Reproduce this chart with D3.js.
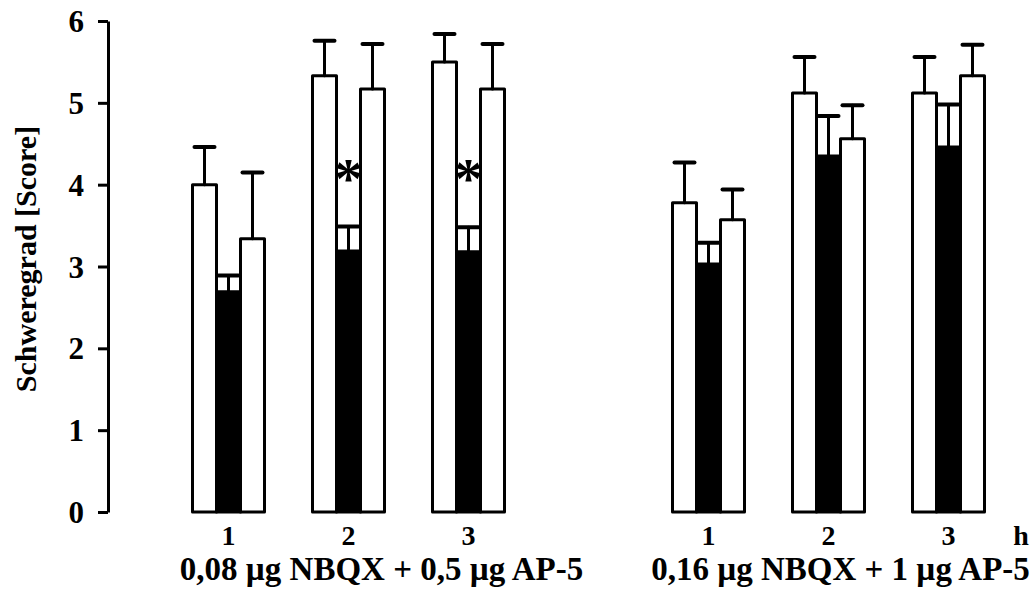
<!DOCTYPE html>
<html>
<head>
<meta charset="utf-8">
<script src="https://cdn.jsdelivr.net/npm/d3@7"></script>
<style>
  body { margin: 0; background: #fff; }
  svg { display: block; font-family: 'Liberation Serif', 'Times New Roman', serif; font-weight: bold; }
</style>
</head>
<body>
<script>
// doses (two panels) and time points
const doses = ['0,08 µg NBQX + 0,5 µg AP-5', '0,16 µg NBQX + 1 µg AP-5']
const hours = ['1', '2', '3']
const yTicks = [0, 1, 2, 3, 4, 5, 6]

// six slots: dose x hour, a blank slot between the panels
const slots = ['a1', 'a2', 'a3', 'gap', 'b1', 'b2', 'b3']
const slotHours = { a1: '1', a2: '2', a3: '3', b1: '1', b2: '2', b3: '3' }

// three bars per slot (white, black, white), mean and SD
const series = ['s1', 's2', 's3']
const meanS1 = [4.0, 5.33, 5.5, 3.78, 5.12, 5.12]
const sdS1 = [0.46, 0.43, 0.34, 0.49, 0.44, 0.44]
const meanS2 = [2.69, 3.19, 3.18, 3.03, 4.35, 4.46]
const sdS2 = [0.2, 0.3, 0.3, 0.26, 0.49, 0.52]
const meanS3 = [3.34, 5.17, 5.17, 3.57, 4.56, 5.33]
const sdS3 = [0.81, 0.55, 0.55, 0.37, 0.41, 0.38]

// significance marks (slot, series, height in score units)
const stars = [
  { slot: 'a2', series: 's2', at: 4.15 },
  { slot: 'a3', series: 's2', at: 4.15 },
]

const W = 1032
const H = 592

const svg = d3.select('body').append('svg')
  .attr('width', W)
  .attr('height', H)

const y = d3.scaleLinear().domain([0, 6]).range([512, 21])
const x = d3.scaleBand().domain(slots).range([192.5, 984.5]).paddingInner(0.4)
const xs = d3.scaleBand().domain(series).range([0, x.bandwidth()])

const dataSlots = slots.filter(s => s !== 'gap')
const fills = { s1: '#fff', s2: '#000', s3: '#fff' }
const means = { s1: meanS1, s2: meanS2, s3: meanS3 }
const sds = { s1: sdS1, s2: sdS2, s3: sdS3 }

const bars = dataSlots.flatMap((slot, i) =>
  series.map(s => ({ slot, series: s, mean: means[s][i], sd: sds[s][i] })))

const barX = d => x(d.slot) + xs(d.series)

svg.append('g').selectAll('rect')
  .data(bars)
  .join('rect')
  .attr('x', barX)
  .attr('y', d => y(d.mean))
  .attr('width', xs.bandwidth())
  .attr('height', d => y(0) - y(d.mean))
  .attr('fill', d => fills[d.series])
  .attr('stroke', '#000')
  .attr('stroke-width', 3)
  .attr('stroke-linejoin', 'round')

// error bars, upward only
const err = svg.append('g').attr('stroke', '#000').attr('stroke-linecap', 'round')

err.selectAll('line.stem')
  .data(bars)
  .join('line')
  .classed('stem', true)
  .attr('x1', d => barX(d) + xs.bandwidth() / 2)
  .attr('x2', d => barX(d) + xs.bandwidth() / 2)
  .attr('y1', d => y(d.mean))
  .attr('y2', d => y(d.mean + d.sd))
  .attr('stroke-width', 3)

err.selectAll('line.cap')
  .data(bars)
  .join('line')
  .classed('cap', true)
  .attr('x1', d => barX(d) + 2)
  .attr('x2', d => barX(d) + xs.bandwidth() - 2)
  .attr('y1', d => y(d.mean + d.sd))
  .attr('y2', d => y(d.mean + d.sd))
  .attr('stroke-width', 4)

// stars
svg.append('g').selectAll('text')
  .data(stars)
  .join('text')
  .attr('x', d => x(d.slot) + xs(d.series) + xs.bandwidth() / 2)
  .attr('y', d => y(d.at) + 26)
  .attr('text-anchor', 'middle')
  .attr('font-size', 56)
  .text('*')

// y axis
const yAxis = svg.append('g')
  .attr('transform', 'translate(108,0)')
  .call(d3.axisLeft(y).tickValues(yTicks).tickFormat(d3.format('d')).tickSize(10).tickSizeOuter(0).tickPadding(14))

yAxis.select('.domain').attr('stroke-width', 3)
yAxis.selectAll('.tick line').attr('stroke-width', 3)
yAxis.selectAll('.tick text')
  .attr('font-size', 31)
  .attr('font-family', 'Liberation Serif, serif')
  .attr('font-weight', 'bold')
  .attr('dy', '0.34em')
  .attr('fill', '#000')

svg.append('text')
  .attr('transform', 'translate(36,259) rotate(-90)')
  .attr('text-anchor', 'middle')
  .attr('font-size', 30)
  .text('Schweregrad [Score]')

// hour labels
svg.append('g').selectAll('text')
  .data(dataSlots)
  .join('text')
  .attr('x', d => x(d) + x.bandwidth() / 2)
  .attr('y', 545)
  .attr('text-anchor', 'middle')
  .attr('font-size', 28)
  .text(d => slotHours[d])

svg.append('text')
  .attr('x', 1021)
  .attr('y', 545)
  .attr('text-anchor', 'middle')
  .attr('font-size', 28)
  .text('h')

// dose labels under each panel
const panelSlots = [['a1', 'a3'], ['b1', 'b3']]
const doseShift = [33, 12]
svg.append('g').selectAll('text')
  .data(doses)
  .join('text')
  .attr('x', (d, i) => (x(panelSlots[i][0]) + x(panelSlots[i][1]) + x.bandwidth()) / 2 + doseShift[i])
  .attr('y', 580)
  .attr('text-anchor', 'middle')
  .attr('font-size', 33)
  .text(d => d)
</script>
</body>
</html>
